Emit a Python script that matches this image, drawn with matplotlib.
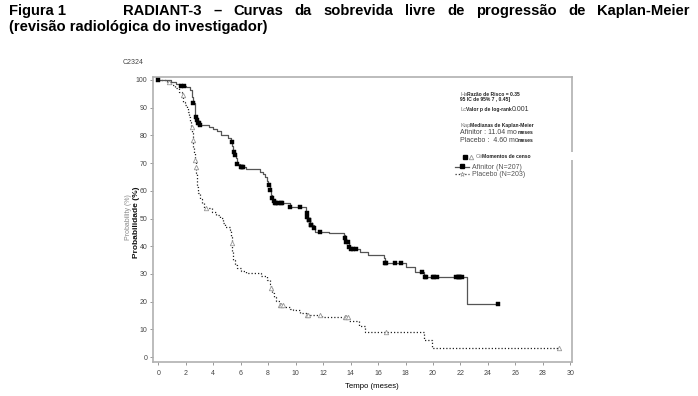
import numpy as np
import matplotlib
matplotlib.use('Agg')
import matplotlib.pyplot as plt
from matplotlib.lines import Line2D
from matplotlib.patches import Rectangle

W, H = 698, 396
plt.rcParams['font.family'] = ['Liberation Sans', 'DejaVu Sans']

# ---------------- data ----------------
# Afinitor: step times (months) and survival (%) from that time on
afin_t = [0, 0.9, 1.3, 1.6, 2.0, 2.3, 2.45, 2.56, 2.65, 2.7, 2.8, 2.87, 2.96,
          3.7, 4.0, 4.3, 4.6, 5.1, 5.3, 5.4, 5.46, 5.55, 5.64, 5.7, 5.95, 6.4,
          7.4, 7.6, 7.8, 7.95, 8.0, 8.1, 8.2, 8.26, 8.35, 8.43, 9.6, 10.76,
          10.85, 10.9, 11.05, 11.3, 11.4, 12.4, 13.5, 13.6, 13.7, 13.85, 13.96,
          14.7, 15.3, 16.4, 16.5, 18.0, 18.7, 19.35, 22.5]
afin_s = [100, 99.3, 98.6, 98.0, 97.3, 96.4, 94.0, 91.6, 89.0, 86.8, 85.5, 84.4, 83.8,
          83.2, 82.3, 81.5, 80.3, 79.2, 77.7, 76.0, 74.1, 73.0, 71.7, 69.5, 68.7, 67.8,
          66.9, 66.0, 65.1, 63.5, 62.1, 60.3, 58.5, 57.3, 56.2, 55.5, 54.3, 52.0,
          50.5, 49.5, 47.7, 46.5, 45.2, 44.6, 44.1, 42.8, 41.6, 39.8, 39.0,
          38.0, 36.7, 35.6, 34.0, 32.6, 30.8, 29.0, 19.0]
afin_end = 24.7
afin_cens = [0.0, 1.65, 1.9, 2.56, 2.75, 2.85, 2.9, 2.95, 3.05, 5.35, 5.5, 5.6, 5.75,
             6.0, 6.1, 6.2, 8.05, 8.15, 8.3, 8.4, 8.5, 8.6, 8.75, 8.9, 9.0, 9.6, 10.3,
             10.8, 10.85, 10.95, 11.0, 11.1, 11.15, 11.3, 11.8, 13.6, 13.7, 13.8, 13.9,
             14.0, 14.2, 14.4, 16.5, 16.6, 17.2, 17.7, 19.2, 19.4, 19.5, 20.0, 20.1,
             20.3, 21.7, 21.8, 21.9, 22.0, 22.1, 24.7]

# Placebo
plac_t = [0, 0.6, 0.9, 1.2, 1.5, 1.7, 1.83, 1.95, 2.07, 2.17, 2.26, 2.33, 2.4, 2.45,
          2.5, 2.56, 2.62, 2.67, 2.72, 2.76, 2.8, 2.85, 2.9, 3.0, 3.16, 3.3, 3.9, 4.2,
          4.5, 4.7, 4.86, 5.2, 5.28, 5.35, 5.4, 5.46, 5.6, 5.75, 6.0, 6.4, 7.2, 7.5,
          7.9, 8.1, 8.2, 8.3, 8.43, 8.6, 8.86, 9.1, 9.6, 9.8, 10.3, 10.8, 11.9, 12.7,
          13.85, 14.6, 15.06, 19.35, 19.9]
plac_s = [100, 99.3, 98.2, 97.0, 95.8, 94.6, 92.2, 91.0, 89.8, 88.3, 86.8, 85.0, 83.1, 80.7,
          78.3, 75.9, 73.5, 71.1, 68.7, 66.3, 63.9, 61.5, 59.1, 57.0, 55.5, 53.7, 52.2, 51.2,
          50.1, 48.5, 47.0, 45.8, 43.5, 41.0, 38.0, 35.0, 33.3, 32.0, 31.2, 30.4, 30.2, 29.2,
          27.8, 26.3, 24.8, 23.2, 21.8, 20.2, 18.8, 18.2, 17.2, 16.8, 16.0, 15.2, 14.6, 14.3,
          13.1, 11.3, 9.0, 6.1, 3.1]
plac_end = 29.2
plac_cens = [0.8, 1.78, 2.43, 2.55, 2.67, 2.75, 3.47, 5.35, 8.2, 8.86, 8.95, 9.05,
             10.8, 10.9, 11.8, 13.6, 13.7, 13.8, 16.6, 29.2]

xticks = list(range(0, 31, 2))
yticks = list(range(0, 101, 10))

# ---------------- figure ----------------
fig = plt.figure(figsize=(W / 100, H / 100), dpi=100)
fig.patch.set_facecolor('white')

def fx(px):
    return px / W

def fy(py):
    return 1 - py / H

L, R, T, B = 153, 572, 77, 362
ax = fig.add_axes([fx(L), fy(B), (R - L) / W, (B - T) / H])
ax.set_xlim(-0.386, 30.12)
ax.set_ylim(-1.8, 101.08)

def steps(t, s, end):
    xs = list(t) + [end]
    ys = list(s) + [s[-1]]
    return xs, ys

def cens_y(t, s, c):
    idx = np.searchsorted(np.array(t), np.array(c), side='right') - 1
    return np.array(s)[idx]

ax.step(*steps(plac_t, plac_s, plac_end), where='post', color='#222222',
        lw=0.9, linestyle=(0, (1, 1.6)), zorder=2)
ax.plot(plac_cens, cens_y(plac_t, plac_s, plac_cens), linestyle='none',
        marker='^', markersize=3.2, markerfacecolor='white',
        markeredgecolor='#999999', markeredgewidth=0.6, zorder=3)

ax.step(*steps(afin_t, afin_s, afin_end), where='post', color='#555555',
        lw=0.9, zorder=4)
ax.plot(afin_cens, cens_y(afin_t, afin_s, afin_cens), linestyle='none',
        marker='s', markersize=2.5, markerfacecolor='black',
        markeredgecolor='black', markeredgewidth=0.3, zorder=5)

ax.set_xticks(xticks)
ax.set_yticks(yticks)
ax.set_xticklabels([str(v) for v in xticks])
ax.set_yticklabels([str(v) for v in yticks])
ax.tick_params(axis='both', direction='out', length=2.5, width=0.6,
               colors='#888888', labelsize=5, labelcolor='#444444')
ax.tick_params(axis='y', pad=1.5)
ax.tick_params(axis='x', pad=3)
for sp in ax.spines.values():
    sp.set_color('#b0b0b0')
    sp.set_linewidth(1.2)

# axis labels
fig.text(fx(372), fy(387), 'Tempo (meses)', fontsize=5.6, ha='center',
         va='center', color='black')
fig.text(fx(128.5), fy(217), 'Probability (%)', fontsize=5.0, rotation=90,
         ha='center', va='center', color='#888888')
fig.text(fx(137), fy(222), 'Probabilidade (%)', fontsize=6.0, rotation=90,
         ha='center', va='center', color='#111111', fontweight='bold')
fig.text(fx(123), fy(63), 'C2324', fontsize=5, ha='left', va='center',
         color='#444444')

# ---------------- title ----------------
tfs = 10.6
fig.text(fx(9), fy(15), 'Figura 1', fontsize=tfs, fontweight='bold',
         ha='left', va='baseline')
fig.text(fx(9), fy(30.5), '(revisão radiológica do investigador)', fontsize=tfs,
         fontweight='bold', ha='left', va='baseline')
words = ['RADIANT-3', '–', 'Curvas', 'da', 'sobrevida', 'livre', 'de',
         'progressão', 'de', 'Kaplan-Meier']
wtexts = [fig.text(0, fy(15), w, fontsize=tfs, fontweight='bold', ha='left',
                   va='baseline') for w in words]
fig.canvas.draw()
rend = fig.canvas.get_renderer()
widths = [t.get_window_extent(rend).width for t in wtexts]
x0, x1 = 123, 690
gap = max(3.0, (x1 - x0 - sum(widths)) / (len(words) - 1))
xpos = x0
for t, w in zip(wtexts, widths):
    t.set_x(fx(xpos))
    xpos += w + gap

# ---------------- annotation box ----------------
small = 3.6
mid = 5.0
def txt(px, py, s, fs=small, color='#222222', weight='bold'):
    fig.text(fx(px), fy(py), s, fontsize=fs, color=color, fontweight=weight,
             ha='left', va='center')

txt(460.5, 94, 'Ha', fs=4.2, color='#777777', weight='normal')
txt(466.5, 94, 'Razão de Risco = 0.35')
txt(460.5, 99.5, '95 IC de 95% 7 , 0.45]')
txt(460.5, 109.5, 'Lc', fs=4.2, color='#777777', weight='normal')
txt(465.5, 109.5, 'Valor p de log-rank')
txt(512, 109.5, '0.001', fs=mid, color='#333333', weight='normal')
txt(460.5, 126, 'Kap', fs=4.2, color='#777777', weight='normal')
txt(470, 126, 'Medianas de Kaplan-Meier')
txt(460.5, 132.5, 'Afinitor : 11.04 mo', fs=mid, color='#444444', weight='normal')
txt(518, 133, 'meses')
txt(460.5, 140, 'Placebo :  4.60 mo', fs=mid, color='#444444', weight='normal')
txt(518, 140.5, 'meses')

# censor legend
fig.add_artist(Line2D([fx(465)], [fy(157)], marker='s', markersize=2.5,
                      color='black', linestyle='none'))
fig.add_artist(Line2D([fx(471)], [fy(157)], marker='^', markersize=3.2,
                      markerfacecolor='white', markeredgecolor='#999999',
                      markeredgewidth=0.6, linestyle='none'))
txt(475.5, 157, 'Cé', fs=4.2, color='#777777', weight='normal')
txt(482, 157, 'Momentos de censo')
# series legend
fig.add_artist(Line2D([fx(455), fx(469)], [fy(167), fy(167)], color='#555555',
                      lw=0.9))
fig.add_artist(Line2D([fx(462)], [fy(166.5)], marker='s', markersize=2.5,
                      color='black', linestyle='none'))
txt(472, 167.5, 'Afinitor (N=207)', fs=mid, color='#555555', weight='normal')
fig.add_artist(Line2D([fx(455), fx(469)], [fy(174), fy(174)], color='#333333',
                      lw=0.9, linestyle=(0, (1, 1.6))))
fig.add_artist(Line2D([fx(462)], [fy(174)], marker='*', markersize=3.5,
                      markerfacecolor='white', markeredgecolor='#999999',
                      markeredgewidth=0.5, linestyle='none'))
txt(472, 174.5, 'Placebo (N=203)', fs=mid, color='#555555', weight='normal')

# white gap in right frame (scan artefact)
fig.add_artist(Rectangle((fx(560), fy(160)), 20 / W, 7.5 / H,
                         transform=fig.transFigure, facecolor='white',
                         edgecolor='none', zorder=10))

fig.savefig('out.png', dpi=100)
